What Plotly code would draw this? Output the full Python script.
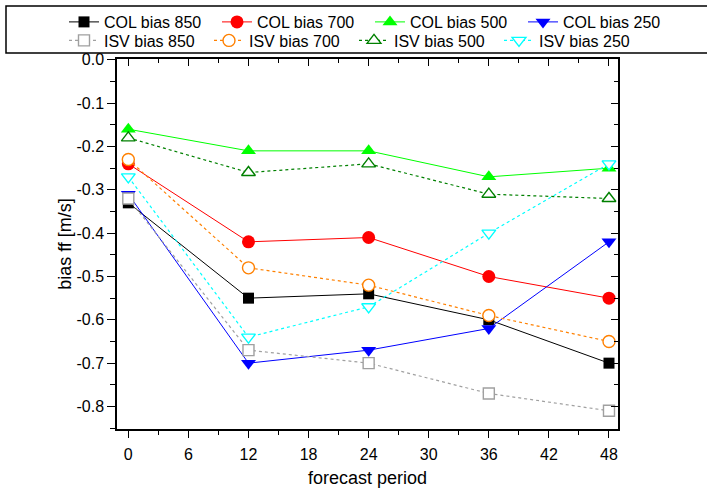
import plotly.graph_objects as go

# ---------------- data ----------------
forecast_hours = [0, 12, 24, 36, 48]

col_850 = [-0.33, -0.55, -0.54, -0.60, -0.70]
col_700 = [-0.24, -0.42, -0.41, -0.50, -0.55]
col_500 = [-0.16, -0.21, -0.21, -0.27, -0.25]
col_250 = [-0.31, -0.70, -0.67, -0.62, -0.42]

isv_850 = [-0.32, -0.67, -0.70, -0.77, -0.81]
isv_700 = [-0.23, -0.48, -0.52, -0.59, -0.65]
isv_500 = [-0.18, -0.26, -0.24, -0.31, -0.32]
isv_250 = [-0.27, -0.64, -0.57, -0.40, -0.24]

x_tick_vals = [0, 6, 12, 18, 24, 30, 36, 42, 48]
x_tick_text = ["0", "6", "12", "18", "24", "30", "36", "42", "48"]
y_tick_vals = [0.0, -0.1, -0.2, -0.3, -0.4, -0.5, -0.6, -0.7, -0.8]
y_tick_text = ["0.0", "-0.1", "-0.2", "-0.3", "-0.4", "-0.5", "-0.6", "-0.7", "-0.8"]

FONT = "Liberation Sans, Arial, sans-serif"

# plot-area geometry (px) used to place legend/frame in paper coords
L, R, T, B = 117, 89, 59, 60
W, H = 707, 489
PW, PH = W - L - R, H - T - B


def px_x(px):
    return (px - L) / PW


def px_y(py):
    return (H - B - py) / PH


fig = go.Figure()

col_series = [
    ("COL bias 850", col_850, "#000000", "square", 11),
    ("COL bias 700", col_700, "#FF0000", "circle", 13),
    ("COL bias 500", col_500, "#00FF00", "triangle-up", 13),
    ("COL bias 250", col_250, "#0000FF", "triangle-down", 13),
]
isv_series = [
    ("ISV bias 850", isv_850, "#A0A0A0", "square", 11),
    ("ISV bias 700", isv_700, "#FF8000", "circle", 12),
    ("ISV bias 500", isv_500, "#008000", "triangle-up", 12),
    ("ISV bias 250", isv_250, "#00FFFF", "triangle-down", 12),
]

for name, vals, color, sym, size in col_series:
    fig.add_trace(go.Scatter(
        x=forecast_hours, y=vals, name=name, mode="lines+markers",
        line=dict(color=color, width=1),
        marker=dict(symbol=sym, size=size, color=color, line=dict(width=0)),
        legend="legend",
    ))

for name, vals, color, sym, size in isv_series:
    fig.add_trace(go.Scatter(
        x=forecast_hours, y=vals, name=name, mode="lines+markers",
        line=dict(color=color, width=1.2, dash="dot"),
        marker=dict(symbol=sym, size=size, color="white", line=dict(color=color, width=1.4)),
        legend="legend2",
    ))

# dummy trace to activate mirrored top/right axes
fig.add_trace(go.Scatter(x=[None], y=[None], xaxis="x2", yaxis="y2",
                         showlegend=False, hoverinfo="skip"))

x_range = [-1.13, 48.9]
y_range = [-0.852, 0.002]

axis_common = dict(showgrid=False, zeroline=False, showline=True,
                   linecolor="black", linewidth=1.5,
                   tickcolor="black", tickwidth=1.2)

fig.update_layout(
    width=W, height=H,
    paper_bgcolor="white", plot_bgcolor="white",
    font=dict(family=FONT, size=16, color="black"),
    margin=dict(l=L, r=R, t=T, b=B, autoexpand=False),
    xaxis=dict(
        range=x_range, tickmode="array", tickvals=x_tick_vals, ticktext=x_tick_text,
        ticks="outside", ticklen=7, ticklabelstandoff=3,
        minor=dict(dtick=3, tick0=0, ticks="outside", ticklen=4, tickcolor="black", showgrid=False),
        title=dict(text="forecast period", standoff=9, font=dict(size=18)),
        **axis_common,
    ),
    yaxis=dict(
        range=y_range, tickmode="array", tickvals=y_tick_vals, ticktext=y_tick_text,
        ticks="outside", ticklen=8,
        minor=dict(dtick=0.05, tick0=0, ticks="outside", ticklen=5, tickcolor="black", showgrid=False),
        title=dict(text="bias ff [m/s]", standoff=0, font=dict(size=18)),
        **axis_common,
    ),
    xaxis2=dict(
        range=x_range, overlaying="x", side="top", anchor="y2",
        tickmode="array", tickvals=x_tick_vals, showticklabels=False,
        ticks="inside", ticklen=7,
        minor=dict(dtick=3, tick0=0, ticks="inside", ticklen=4, tickcolor="black", showgrid=False),
        **axis_common,
    ),
    yaxis2=dict(
        range=y_range, overlaying="y", side="right", anchor="x2",
        tickmode="array", tickvals=y_tick_vals, showticklabels=False,
        ticks="inside", ticklen=7,
        minor=dict(dtick=0.05, tick0=0, ticks="inside", ticklen=4, tickcolor="black", showgrid=False),
        **axis_common,
    ),
    legend=dict(
        orientation="h", xref="paper", yref="paper",
        x=px_x(64), y=px_y(5), xanchor="left", yanchor="top",
        entrywidth=108, entrywidthmode="pixels",
        bgcolor="rgba(0,0,0,0)", borderwidth=0,
        font=dict(family=FONT, size=16),
    ),
    legend2=dict(
        orientation="h", xref="paper", yref="paper",
        x=px_x(64), y=px_y(23.5), xanchor="left", yanchor="top",
        entrywidth=100, entrywidthmode="pixels",
        bgcolor="rgba(0,0,0,0)", borderwidth=0,
        font=dict(family=FONT, size=16),
    ),
    shapes=[dict(
        type="rect", xref="paper", yref="paper",
        x0=px_x(6), x1=px_x(740),
        y0=px_y(53), y1=px_y(6),
        line=dict(color="black", width=1.5), fillcolor="rgba(0,0,0,0)",
    )],
)

fig.write_html("out.html")
